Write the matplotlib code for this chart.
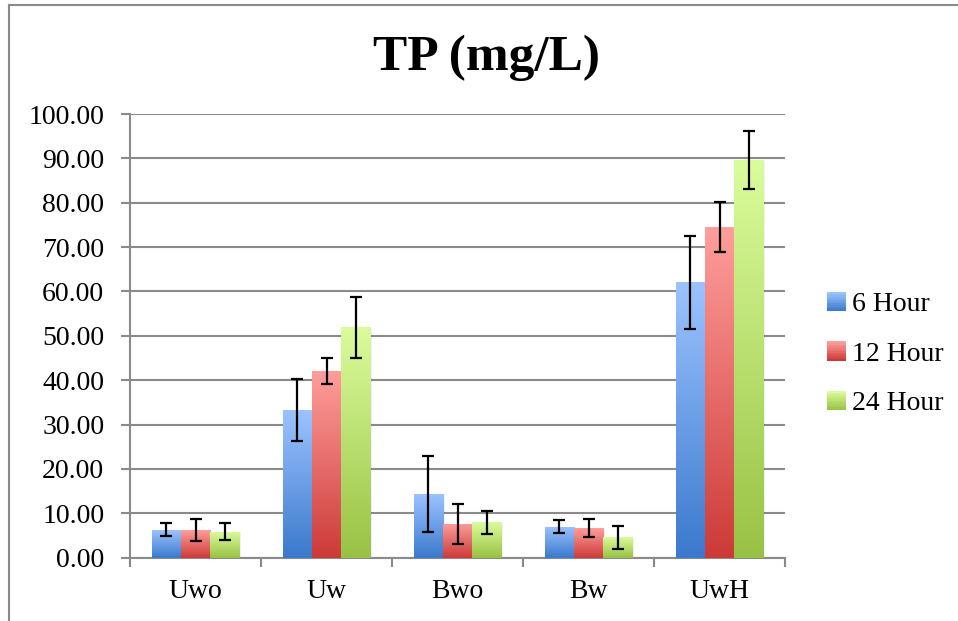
import numpy as np
import matplotlib
matplotlib.use("Agg")
import matplotlib.pyplot as plt
from matplotlib.patches import Rectangle
from matplotlib.colors import LinearSegmentedColormap
from matplotlib.legend_handler import HandlerBase
from matplotlib.lines import Line2D

categories = ["Uwo", "Uw", "Bwo", "Bw", "UwH"]
series = ["6 Hour", "12 Hour", "24 Hour"]
vals_6 = [6.3, 33.3, 14.4, 7.0, 62.1]
vals_12 = [6.3, 42.1, 7.7, 6.7, 74.5]
vals_24 = [5.9, 51.9, 8.0, 4.6, 89.6]
err_6 = [1.5, 6.9, 8.6, 1.4, 10.5]
err_12 = [2.5, 2.9, 4.5, 2.1, 5.6]
err_24 = [1.9, 6.8, 2.6, 2.6, 6.5]
yticks = [0, 10, 20, 30, 40, 50, 60, 70, 80, 90, 100]

values = [vals_6, vals_12, vals_24]
errors = [err_6, err_12, err_24]
grads = [("#9cc3ff", "#3b79cc"), ("#ff9e9b", "#cc3a38"), ("#dbfc9c", "#98c244")]

plt.rcParams['font.family'] = ['Liberation Serif', 'DejaVu Serif']

fig = plt.figure(figsize=(9.58, 6.21), dpi=100)
ax = fig.add_axes([130/958, 1-557.7/621, 655/958, (557.7-114)/621])

# outer chart frame (left & top)
fig.add_artist(Line2D([9/958, 9/958], [0, 1-5/621], transform=fig.transFigure, color="#8a8a8a", lw=1.5))
fig.add_artist(Line2D([9/958, 1.0], [1-5/621, 1-5/621], transform=fig.transFigure, color="#8a8a8a", lw=1.5))

n = len(categories)
x = np.arange(n)
bw = 1/4.5
grey = "#8a8a8a"

for si in range(3):
    cmap = LinearSegmentedColormap.from_list("g%d" % si, [grads[si][1], grads[si][0]])
    for ci in range(n):
        left = x[ci] - 1.5*bw + si*bw
        h = values[si][ci]
        sh = Rectangle((left + 0.012, 0), bw, h - 0.3, facecolor="#000000", alpha=0.06, lw=0, zorder=2)
        ax.add_patch(sh)
        rect = Rectangle((left, 0), bw, h, facecolor="none", lw=0, zorder=3)
        ax.add_patch(rect)
        grad = np.linspace(0, 1, 256).reshape(-1, 1)
        im = ax.imshow(grad, cmap=cmap, origin="lower", aspect="auto",
                       extent=[left, left+bw, 0, h], zorder=3, interpolation="bilinear")
        im.set_clip_path(rect)
    ax.errorbar(x - bw + si*bw, values[si], yerr=errors[si], fmt="none",
                ecolor="black", elinewidth=1.6, capsize=4.5, capthick=1.6, zorder=5)

ax.set_xlim(-0.5, n - 0.5)
ax.set_ylim(0, 100)
ax.set_yticks(yticks)
ax.set_yticklabels(["%.2f" % v for v in yticks])
ax.yaxis.grid(True, color=grey, lw=1.5)
ax.set_axisbelow(True)
for s in ["top", "right"]:
    ax.spines[s].set_visible(False)
for s in ["left", "bottom"]:
    ax.spines[s].set_color(grey)
    ax.spines[s].set_linewidth(1.5)
ax.tick_params(axis="y", length=6.5, width=1.5, color=grey, pad=12, labelsize=20)
ax.set_xticks(x)
ax.set_xticklabels(categories)
ax.tick_params(axis="x", which="major", length=0, pad=15, labelsize=20)
ax.set_xticks(np.arange(n+1) - 0.5, minor=True)
ax.tick_params(axis="x", which="minor", length=6.5, width=1.5, color=grey)

fig.text(486/958, 1-70/621, "TP (mg/L)", fontsize=37, fontweight="bold",
         ha="center", va="baseline")


class GradHandler(HandlerBase):
    def __init__(self, top, bottom):
        super().__init__()
        self.top, self.bottom = top, bottom

    def create_artists(self, legend, orig_handle, xdescent, ydescent, width, height, fontsize, trans):
        c1 = np.array(matplotlib.colors.to_rgb(self.top))
        c2 = np.array(matplotlib.colors.to_rgb(self.bottom))
        k = 12
        arts = []
        side = height * 0.95
        x0 = -xdescent + (width - side) / 2
        y0 = -ydescent + (height - side) / 2
        for i in range(k):
            t = i / (k - 1)
            col = c2 * (1 - t) + c1 * t
            r = Rectangle((x0, y0 + side * i / k), side, side / k + 0.3, facecolor=col, lw=0, transform=trans)
            arts.append(r)
        return arts


handles = [Rectangle((0, 0), 1, 1) for _ in series]
hmap = {handles[i]: GradHandler(grads[i][0], grads[i][1]) for i in range(3)}
leg = fig.legend(handles, series, handler_map=hmap, loc="center left",
                 bbox_to_anchor=(826/958, 1-354/621), frameon=False, fontsize=20,
                 handlelength=0.75, handleheight=0.75, handletextpad=0.2, labelspacing=0.85,
                 borderaxespad=0, borderpad=0)

fig.savefig("out.png", dpi=100)
